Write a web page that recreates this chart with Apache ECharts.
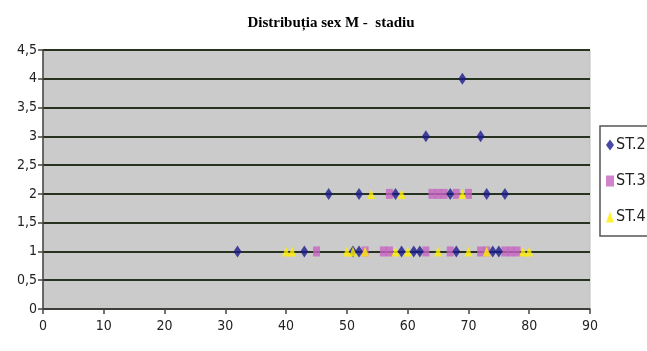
<!DOCTYPE html>
<html>
<head>
<meta charset="utf-8">
<script src="https://cdn.jsdelivr.net/npm/echarts@6/dist/echarts.min.js"></script>
<style>
  html, body { margin: 0; padding: 0; background: #fff; }
  #chart { width: 647px; height: 351px; }
</style>
</head>
<body>
<div id="chart"></div>
<script>
var titlu = 'Distribuția sex M -  stadiu';
var numeSerii = ['ST.2', 'ST.3', 'ST.4'];

// varsta (x) si stadiul (y) pentru fiecare punct
var st2Varsta = [32, 43, 51, 52, 59, 61, 62, 68, 74, 75, 47, 52, 58, 67, 73, 76, 63, 72, 69];
var st2Stadiu = [1, 1, 1, 1, 1, 1, 1, 1, 1, 1, 2, 2, 2, 2, 2, 2, 3, 3, 4];

var st3Varsta = [45, 53, 56, 57, 63, 67, 72, 73, 76, 77, 78, 57, 64, 65, 66, 68, 70];
var st3Stadiu = [1, 1, 1, 1, 1, 1, 1, 1, 1, 1, 1, 2, 2, 2, 2, 2, 2];

var st4Varsta = [40, 41, 50, 51, 53, 58, 60, 65, 70, 73, 79, 80, 54, 59, 69];
var st4Stadiu = [1, 1, 1, 1, 1, 1, 1, 1, 1, 1, 1, 1, 2, 2, 2];

function perechi(xs, ys) {
    var rez = [];
    for (var i = 0; i < xs.length; i++) {
        rez.push([xs[i], ys[i]]);
    }
    return rez;
}

var fontAxa = '"DejaVu Sans Condensed", "Liberation Sans Narrow", "Liberation Sans", sans-serif';

var grafic = echarts.init(document.getElementById('chart'), null, { renderer: 'canvas' });

grafic.setOption({
    animation: false,
    backgroundColor: '#ffffff',
    title: {
        text: titlu,
        left: 326,
        top: 11,
        textAlign: 'center',
        textStyle: {
            fontFamily: '"Liberation Serif", "Times New Roman", serif',
            fontWeight: 'bold',
            fontSize: 15,
            color: '#000'
        }
    },
    legend: {
        orient: 'vertical',
        left: 600,
        top: 126,
        data: numeSerii,
        itemWidth: 8,
        itemHeight: 11,
        itemGap: 20,
        padding: [11, 30, 11, 6],
        borderColor: '#555555',
        borderWidth: 1.5,
        backgroundColor: '#ffffff',
        textStyle: {
            fontFamily: fontAxa,
            fontSize: 16,
            color: '#222',
            padding: [0, 0, 0, -3]
        }
    },
    grid: {
        left: 43,
        top: 50,
        width: 547,
        height: 259,
        show: true,
        backgroundColor: '#cbcbcb',
        borderColor: '#bdbdbd',
        borderWidth: 1
    },
    xAxis: {
        type: 'value',
        min: 0,
        max: 90,
        interval: 10,
        axisLine: { lineStyle: { color: '#444', width: 1.5 } },
        axisTick: { show: true, length: 5, lineStyle: { color: '#444', width: 1.5 } },
        axisLabel: {
            margin: 10,
            fontFamily: fontAxa,
            fontSize: 14,
            color: '#222'
        },
        splitLine: { show: false }
    },
    yAxis: {
        type: 'value',
        min: 0,
        max: 4.5,
        interval: 0.5,
        axisLine: { show: true, lineStyle: { color: '#444', width: 1.5 } },
        axisTick: { show: true, length: 5, lineStyle: { color: '#444', width: 1.5 } },
        axisLabel: {
            margin: 6,
            fontFamily: fontAxa,
            fontSize: 14,
            color: '#222',
            formatter: function(v) {
                return String(v).replace('.', ',');
            }
        },
        splitLine: { show: true, lineStyle: { color: '#27321f', width: 2 } }
    },
    series: [{
        name: 'ST.2',
        type: 'scatter',
        symbol: 'diamond',
        symbolSize: [8, 12],
        itemStyle: { color: '#1c1c8c' },
        data: perechi(st2Varsta, st2Stadiu),
        z: 3
    }, {
        name: 'ST.3',
        type: 'scatter',
        symbol: 'rect',
        symbolSize: [7, 10],
        itemStyle: { color: '#c564c0' },
        data: perechi(st3Varsta, st3Stadiu),
        z: 2
    }, {
        name: 'ST.4',
        type: 'scatter',
        symbol: 'triangle',
        symbolSize: [8, 10],
        itemStyle: { color: '#ffee00' },
        data: perechi(st4Varsta, st4Stadiu),
        z: 4
    }]
});
</script>
</body>
</html>
